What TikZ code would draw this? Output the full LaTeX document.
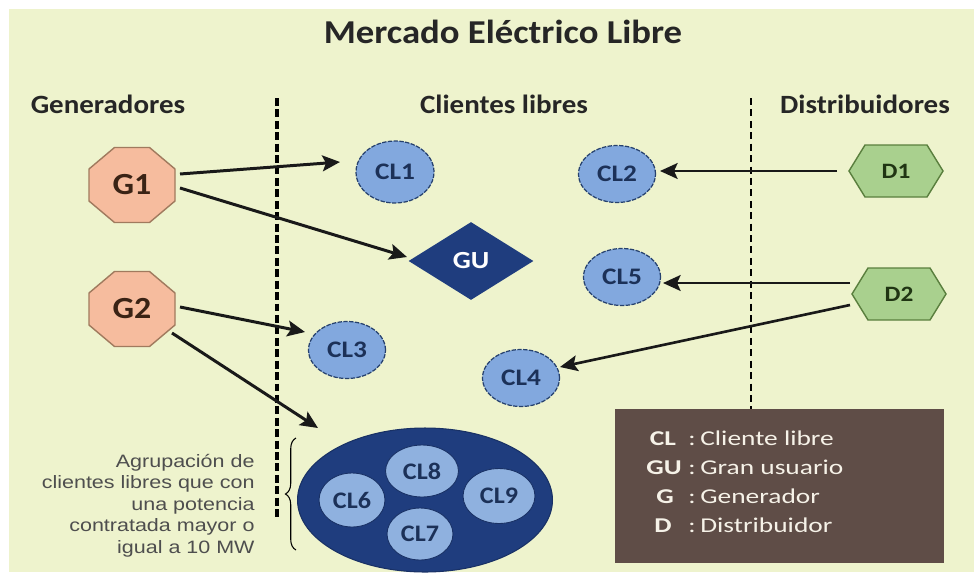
\documentclass[tikz,border=0pt]{standalone}
\usepackage{fontspec}
\setmainfont{Carlito}
\newfontfamily\arialf{Liberation Sans}
\usetikzlibrary{shapes.geometric,arrows.meta,decorations.pathreplacing}
\definecolor{bgc}{HTML}{EEF3CD}
\definecolor{genfill}{HTML}{F6BC9E}
\definecolor{gendraw}{HTML}{A07A5E}
\definecolor{gentext}{HTML}{3A2315}
\definecolor{clfill}{HTML}{82A8DE}
\definecolor{cldraw}{HTML}{26416E}
\definecolor{cltext}{HTML}{1C3158}
\definecolor{navy}{HTML}{1F3D7E}
\definecolor{innerfill}{HTML}{8FB1DF}
\definecolor{dfill}{HTML}{A9D08E}
\definecolor{ddraw}{HTML}{5A7F3E}
\definecolor{dtext}{HTML}{203513}
\definecolor{legc}{HTML}{5F4D47}
\definecolor{legtext}{HTML}{F6F2E8}
\definecolor{greytext}{HTML}{4E4E4E}
\begin{document}
\begin{tikzpicture}[x=0.02cm,y=-0.02cm,
  titlef/.style={font=\bfseries\fontsize{19}{22}\selectfont, text=black!85, xscale=1.1, anchor=base},
  headf/.style={font=\bfseries\fontsize{15}{18}\selectfont, text=black!85, xscale=1.1, anchor=base},
  genshape/.style={fill=genfill, draw=gendraw, line width=0.8pt},
  gentxt/.style={font=\bfseries\fontsize{17.5}{20}\selectfont, text=gentext, xscale=1.1, inner sep=0},
  dshape/.style={fill=dfill, draw=ddraw, line width=0.8pt},
  dtxt/.style={font=\bfseries\fontsize{12.5}{14}\selectfont, text=dtext, xscale=1.15, inner sep=0},
  clnode/.style={ellipse, fill=clfill, draw=cldraw, line width=0.7pt, dash pattern=on 2.5pt off 0.8pt,
     inner sep=0, minimum width=1.54cm, minimum height=1.14cm,
     font=\bfseries\fontsize{13.5}{15}\selectfont, text=cltext},
  innernode/.style={ellipse, fill=innerfill, draw=navy!80!black, line width=0.5pt, inner sep=0,
     font=\bfseries\fontsize{13.5}{15}\selectfont, text=cltext},
  arr/.style={line width=1.7pt, draw=black!90, -{Stealth[length=10pt,width=9pt,inset=2pt]}},
  darr/.style={line width=1.5pt, draw=black!90, -{Stealth[length=10pt,width=9pt,inset=2pt]}},
  sidetxt/.style={font=\arialf\fontsize{10.2}{12}\selectfont, text=greytext, xscale=1.2, anchor=base east, inner sep=0},
  legabbr/.style={font=\bfseries\fontsize{12}{14}\selectfont, text=legtext, xscale=1.3, anchor=base, inner sep=0},
  legdesc/.style={font=\fontsize{12}{14}\selectfont, text=legtext, xscale=1.3, anchor=base west, inner sep=0}
]
\useasboundingbox (0,0) rectangle (974,572);
\fill[white] (0,0) rectangle (974,572);
\fill[bgc] (9,9) rectangle (974,572);

% title and headers
\node[titlef] (title) at (503,43) {Mercado Eléctrico Libre};
\node[headf] (hgen) at (108,113) {Generadores};
\node[headf] (hcl) at (504,113) {Clientes libres};
\node[headf] (hdis) at (865,113) {Distribuidores};

% separators
\draw[line width=1.9pt, dash pattern=on 4.5pt off 2pt] (277,98) -- (277,517);
\draw[line width=0.7pt, dash pattern=on 4pt off 2.5pt] (751,98) -- (751,409);

% generators
\filldraw[genshape] (132,185) ++(-17.5,-37.5) -- ++(35,0) -- ++(25.5,21.5) -- ++(0,32) -- ++(-25.5,21.5) -- ++(-35,0) -- ++(-25.5,-21.5) -- ++(0,-32) -- cycle;
\node[gentxt] (g1) at (132,185) {G1};
\filldraw[genshape] (132,309) ++(-17.5,-37.5) -- ++(35,0) -- ++(25.5,21.5) -- ++(0,32) -- ++(-25.5,21.5) -- ++(-35,0) -- ++(-25.5,-21.5) -- ++(0,-32) -- cycle;
\node[gentxt] (g2) at (132,309) {G2};

% distributors
\filldraw[dshape] (896,171) ++(-31,-26) -- ++(62,0) -- ++(16,26) -- ++(-16,26) -- ++(-62,0) -- ++(-16,-26) -- cycle;
\node[dtxt] (d1) at (896,171) {D1};
\filldraw[dshape] (899,294) ++(-31,-26) -- ++(62,0) -- ++(16,26) -- ++(-16,26) -- ++(-62,0) -- ++(-16,-26) -- cycle;
\node[dtxt] (d2) at (899,294) {D2};

% free clients
\node[clnode, minimum width=1.56cm, minimum height=1.24cm] (cl1) at (395,172) {\scalebox{1.15}[1]{CL1}};
\node[clnode] (cl2) at (617,174) {\scalebox{1.15}[1]{CL2}};
\node[clnode] (cl3) at (347,350) {\scalebox{1.15}[1]{CL3}};
\node[clnode] (cl4) at (521,378) {\scalebox{1.15}[1]{CL4}};
\node[clnode] (cl5) at (622,277) {\scalebox{1.15}[1]{CL5}};

% large user
\node[diamond, fill=navy, inner sep=0, minimum width=2.5cm, minimum height=1.56cm,
      font=\bfseries\fontsize{14}{16}\selectfont, text=white] (gu) at (471,261) {\scalebox{1.15}[1]{GU}};

% group of free clients
\node[ellipse, fill=navy, draw=navy!80!black, line width=0.6pt, minimum width=5.1cm, minimum height=2.88cm, inner sep=0] (group) at (425,500) {};
\node[innernode, minimum width=1.46cm, minimum height=1.04cm] (cl8) at (422,471) {\scalebox{1.1}[1]{CL8}};
\node[innernode, minimum width=1.32cm, minimum height=1.08cm] (cl6) at (352,500) {\scalebox{1.1}[1]{CL6}};
\node[innernode, minimum width=1.44cm, minimum height=1.10cm] (cl9) at (499,496) {\scalebox{1.1}[1]{CL9}};
\node[innernode, minimum width=1.32cm, minimum height=1.04cm] (cl7) at (420,534) {\scalebox{1.1}[1]{CL7}};

% arrows
\draw[arr] ([shift={(48,-11)}]g1.center) -- ([shift={(-55,-10)}]cl1.center);
\draw[arr] ([shift={(48,3)}]g1.center) -- ([shift={(-64,-4)}]gu.center);
\draw[arr] ([shift={(48,-2)}]g2.center) -- ([shift={(-42,-18)}]cl3.center);
\draw[arr] ([shift={(40,24)}]g2.center) -- ([shift={(-107,-72)}]group.center);
\draw[darr] ([shift={(-59,0)}]d1.center) -- ([shift={(43,-3)}]cl2.center);
\draw[darr] ([shift={(-49,-11)}]d2.center) -- ([shift={(41,6)}]cl5.center);
\draw[darr] ([shift={(-49,11)}]d2.center) -- ([shift={(39,-11)}]cl4.center);

% brace and side text
\coordinate (bracebot) at (296,550);
\coordinate (bracetop) at (296,438);
\draw[line width=0.6pt, decorate, decoration={brace, amplitude=6pt}] (bracebot) -- (bracetop);
\node[sidetxt] (s1) at (255,467) {Agrupación de};
\node[sidetxt] (s2) at (255,488) {clientes libres que con};
\node[sidetxt] (s3) at (255,510) {una potencia};
\node[sidetxt] (s4) at (255,531) {contratada mayor o};
\node[sidetxt] (s5) at (255,553) {igual a 10 MW};

% legend
\node[fill=legc, inner sep=0, minimum width=6.58cm, minimum height=3.08cm, anchor=north west] (legend) at (615,409) {};
\node[legabbr] (lcl) at (663,445) {CL};
\node[legabbr] (lgu) at (664,474) {GU};
\node[legabbr] (lg) at (665,503) {G};
\node[legabbr] (ld) at (663,532) {D};
\node[legdesc] (lcl2) at (688,445) {:\,Cliente libre};
\node[legdesc] (lgu2) at (688,474) {:\,Gran usuario};
\node[legdesc] (lg2) at (688,503) {:\,Generador};
\node[legdesc] (ld2) at (688,532) {:\,Distribuidor};
\end{tikzpicture}
\end{document}
